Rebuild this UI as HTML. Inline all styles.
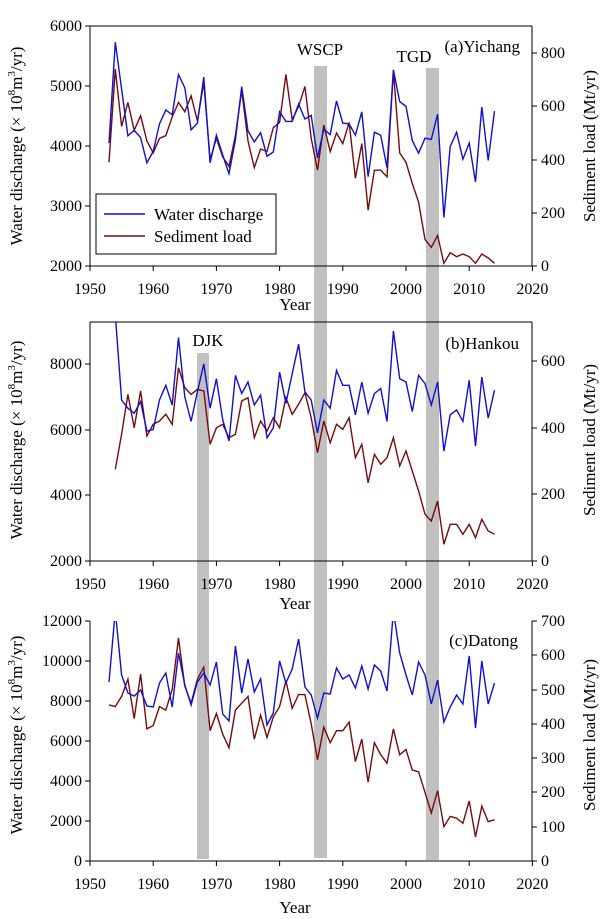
<!DOCTYPE html>
<html><head><meta charset="utf-8">
<style>
html,body{margin:0;padding:0;background:#fff;}
svg{display:block;font-family:"Liberation Serif",serif;}
</style></head>
<body>
<svg id="s" width="606" height="919" xmlns="http://www.w3.org/2000/svg"></svg>
<script>
const S=document.getElementById('s');let h='';
const X=y=>90+(y-1950)*6.32;
h+=`<rect x="314" y="66" width="13" height="792" fill="#c0c0c0"/>`;
h+=`<rect x="426" y="68" width="13" height="792" fill="#c0c0c0"/>`;
h+=`<rect x="197" y="353" width="12" height="506" fill="#c0c0c0"/>`;
const wdA=[4050,5730,4950,4170,4260,4140,3720,3910,4370,4600,4520,5190,4970,4270,4380,5150,3720,4180,3850,3540,4100,4990,4250,4070,4220,3830,3900,4570,4410,4410,4700,4450,4510,3800,4280,4190,4750,4380,4370,4180,4570,3490,4230,4180,3640,5270,4740,4660,4090,3880,4130,4110,4530,2810,3990,4230,3780,4050,3400,4650,3760,4580];
const sA=[390,740,525,615,510,565,470,425,480,490,560,615,580,640,545,690,400,480,410,375,490,660,470,370,440,430,520,540,720,550,600,675,480,360,530,430,500,460,540,330,460,210,360,360,335,735,425,390,310,240,100,70,115,10,50,35,45,35,10,45,30,10];
const wdB=[9500,6900,6650,6500,6850,5950,6000,6900,7350,6750,8800,7000,6250,7150,8000,6650,7550,6300,5650,7650,7100,7450,6750,7050,5750,6050,7750,6800,7700,8600,7150,6900,5900,6900,6650,7800,7350,7350,6450,7450,6500,7100,7250,6250,9000,7550,7450,6550,7650,7400,6750,7450,5350,6450,6600,6250,7500,5500,7600,6350,7200];
const sB=[275,380,500,400,510,375,410,420,440,410,580,520,500,515,510,350,400,410,370,380,480,490,370,420,390,430,400,490,440,470,505,430,325,420,355,410,395,430,310,350,235,320,290,310,370,285,330,270,210,140,120,180,50,110,110,80,110,70,125,90,80];
const wdC=[8950,12500,9300,8400,8250,8550,7750,7700,8900,9400,7700,10400,8800,7800,8950,9400,8800,9950,7350,7000,10750,8400,10100,8450,9100,6800,7400,10000,8900,9600,11100,8700,8300,7150,8400,8350,9650,9100,9300,8650,9750,8600,9800,9500,8500,12500,10400,9300,8300,9950,9300,7850,9050,6950,7700,8300,7850,10250,6650,10000,7850,8900];
const sC=[455,450,480,530,415,545,385,395,450,440,500,650,510,460,530,565,380,430,370,330,440,460,480,355,425,360,420,450,525,445,485,485,400,295,390,345,380,380,405,290,355,230,345,310,285,385,310,325,265,260,200,140,205,100,130,125,110,175,70,160,115,120];
function line(arr,y0,f,col,id){let p=arr.map((v,i)=>X(y0+i).toFixed(1)+','+f(v).toFixed(1)).join(' ');
 return `<polyline points="${p}" fill="none" stroke="${col}" stroke-width="1.4" clip-path="url(#${id})"/>`;}
const B='#1010d0',R='#7a0a0a';
h+=`<defs><clipPath id="ca"><rect x="90" y="26" width="442" height="240"/></clipPath><clipPath id="cb"><rect x="90" y="322" width="442" height="239"/></clipPath><clipPath id="cc"><rect x="90" y="621" width="442" height="240"/></clipPath></defs>`;
h+=line(sA,1953,s=>266-s*0.266,R,'ca');h+=line(wdA,1953,v=>266-(v-2000)*0.06,B,'ca');
h+=line(sB,1954,s=>561-s*0.3333,R,'cb');h+=line(wdB,1954,v=>561-(v-2000)*0.03285,B,'cb');
h+=line(sC,1953,s=>861-s*0.343,R,'cc');h+=line(wdC,1953,v=>861-v*0.02,B,'cc');
function axes(top,bot,lt,rt,frameTop,labY,yearY,lc,rc){
 let g=`<g stroke="#000" stroke-width="1" fill="none">`;
 g+=`<line x1="90" y1="${top}" x2="90" y2="${bot}"/><line x1="532" y1="${top}" x2="532" y2="${bot}"/><line x1="90" y1="${bot}" x2="532" y2="${bot}"/>`;
 if(frameTop)g+=`<line x1="90" y1="${top}" x2="532" y2="${top}"/>`;
 for(let y=1950;y<=2020;y+=10)g+=`<line x1="${X(y)}" y1="${bot}" x2="${X(y)}" y2="${bot+5}"/>`;
 lt.forEach(t=>g+=`<line x1="85" y1="${t[1]}" x2="90" y2="${t[1]}"/>`);
 rt.forEach(t=>g+=`<line x1="532" y1="${t[1]}" x2="537" y2="${t[1]}"/>`);
 g+=`</g><g font-size="16" fill="#000">`;
 for(let y=1950;y<=2020;y+=10)g+=`<text x="${X(y)}" y="${labY}" text-anchor="middle">${y}</text>`;
 lt.forEach(t=>g+=`<text x="82" y="${t[1]+5}" text-anchor="end">${t[0]}</text>`);
 rt.forEach(t=>g+=`<text x="541" y="${t[1]+5}">${t[0]}</text>`);
 g+=`<text x="295" y="${yearY}" text-anchor="middle" font-size="17">Year</text>`;
 g+=`<text transform="translate(22,${lc}) rotate(-90)" text-anchor="middle" font-size="17">Water discharge (× 10<tspan font-size="11" dy="-7">8</tspan><tspan dy="7">m</tspan><tspan font-size="11" dy="-7">3</tspan><tspan dy="7">/yr)</tspan></text>`;
 g+=`<text transform="translate(595,${rc}) rotate(-90)" text-anchor="middle" font-size="17">Sediment load (Mt/yr)</text></g>`;
 return g;}
h+=axes(26,266,[[6000,26],[5000,86],[4000,146],[3000,206],[2000,266]],[[0,266],[200,213],[400,160],[600,106],[800,53]],true,294,310,146,146);
h+=axes(322,561,[[8000,364],[6000,430],[4000,495],[2000,561]],[[0,561],[200,494],[400,428],[600,361]],true,589,609,440,440);
h+=axes(621,861,[[12000,621],[10000,661],[8000,701],[6000,741],[4000,781],[2000,821],[0,861]],[[0,861],[100,827],[200,792],[300,758],[400,724],[500,690],[600,655],[700,621]],false,889,913,735,735);
h+=`<g font-size="17" fill="#000"><text x="520" y="52" text-anchor="end">(a)Yichang</text><text x="320" y="55" text-anchor="middle">WSCP</text><text x="414" y="62" text-anchor="middle">TGD</text><text x="519" y="349" text-anchor="end">(b)Hankou</text><text x="208" y="346" text-anchor="middle">DJK</text><text x="518" y="646" text-anchor="end">(c)Datong</text></g>`;
h+=`<rect x="96" y="194" width="180" height="60" fill="#fff" stroke="#000" stroke-width="1"/>`;
h+=`<line x1="104" y1="214" x2="145" y2="214" stroke="${B}" stroke-width="1.4"/><line x1="104" y1="236" x2="145" y2="236" stroke="${R}" stroke-width="1.4"/>`;
h+=`<g font-size="17"><text x="154" y="220">Water discharge</text><text x="154" y="242">Sediment load</text></g>`;
S.innerHTML=h;
</script>
</body></html>
